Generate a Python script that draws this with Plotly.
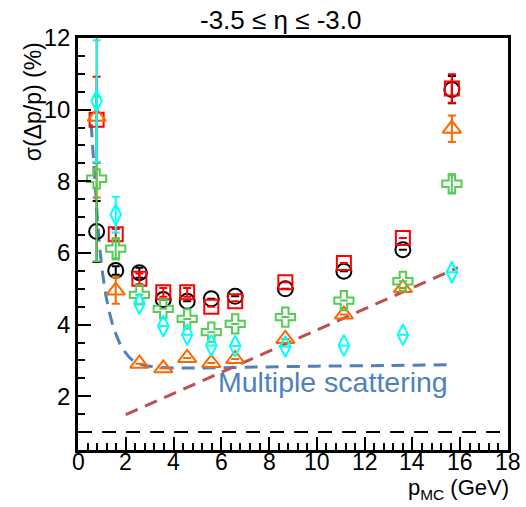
import plotly.graph_objects as go

# Momentum bins (GeV)
p_mc = [0.78, 1.58, 2.57, 3.57, 4.57, 5.58, 6.58, 8.68, 11.13, 13.6, 15.65]

# Relative momentum resolution sigma(dp/p) in % for five configurations
res_black = [6.6, 5.51, 5.45, 4.7, 4.65, 4.72, 4.79, 5.0, 5.49, 6.09, 10.56]
err_black = [0.85, 0.12, 0.14, 0.0, 0.0, 0.0, 0.0, 0.0, 0.0, 0.0, 0.38]

res_red = [9.72, 6.52, 5.28, 4.9, 4.9, 4.5, 4.65, 5.18, 5.72, 6.42, 10.59]
err_red = [1.2, 0.15, 0.15, 0.12, 0.12, 0.0, 0.0, 0.0, 0.0, 0.0, 0.4]

res_orange = [9.8, 4.95, 2.91, 2.78, 3.07, 2.93, 3.04, 3.6, 4.28, 5.02, 9.47]
err_orange = [2.25, 0.37, 0.0, 0.0, 0.0, 0.0, 0.0, 0.0, 0.0, 0.0, 0.37]

res_green = [8.07, 6.12, 4.83, 4.44, 4.16, 3.79, 4.02, 4.21, 4.67, 5.21, 7.93]
err_green = [2.3, 0.3, 0.0, 0.0, 0.0, 0.0, 0.0, 0.0, 0.0, 0.0, 0.25]

res_cyan = [10.24, 7.07, 4.58, 3.96, 3.72, 3.42, 3.40, 3.39, 3.42, 3.72, 5.46]
err_cyan = [1.7, 0.5, 0.0, 0.0, 0.0, 0.0, 0.0, 0.0, 0.0, 0.0, 0.0]

# Multiple-scattering contribution
ms_p = [0.55, 0.65, 0.75, 0.85, 1.0, 1.2, 1.5, 1.9, 2.4, 3.2, 4.8, 7.0, 10.0, 13.0, 15.5]
ms_res = [9.6, 8.6, 7.6, 6.6, 5.6, 4.7, 3.9, 3.3, 2.95, 2.82, 2.79, 2.81, 2.84, 2.86, 2.88]

# Intrinsic (point resolution) term, linear in p
lin_p = [2.0, 15.9]
lin_res = [1.49, 5.59]

# Reference level
ref_p = [0, 18]
ref_res = [1, 1]

# Axis tick labels
x_ticks = [0, 2, 4, 6, 8, 10, 12, 14, 16, 18]

fig = go.Figure()

fig.add_trace(go.Scatter(x=ref_p, y=ref_res, mode="lines",
                         line=dict(color="black", width=2, dash="14px,10px")))
fig.add_trace(go.Scatter(x=ms_p, y=ms_res, mode="lines", line_shape="spline",
                         line=dict(color="#4f81bd", width=3, dash="13px,8px")))
fig.add_trace(go.Scatter(x=lin_p, y=lin_res, mode="lines",
                         line=dict(color="#c0504d", width=3, dash="13px,8px")))

series = [
    (res_black, err_black, "black", "circle-open", 15),
    (res_red, err_red, "#ff0000", "square-open", 14),
    (res_orange, err_orange, "#ff6600", "triangle-up-open", 16),
    (res_green, err_green, "#55cc55", "cross-open", 16),
    (res_cyan, err_cyan, "#00ffff", "diamond-tall-open", 15),
]
for vals, errs, col, sym, sz in series:
    fig.add_trace(go.Scatter(
        x=p_mc, y=vals, mode="markers",
        marker=dict(symbol=sym, size=sz, color=col, line=dict(color=col, width=2)),
        error_y=dict(type="data", array=errs, visible=True, color=col,
                     thickness=2, width=4),
    ))

# x tick labels placed tight under the frame
for t in x_ticks:
    fig.add_annotation(x=t, y=-0.029, xref="x", yref="paper", text=str(t),
                       showarrow=False, font=dict(size=23, color="black"),
                       xanchor="center", yanchor="middle")

fig.add_annotation(x=0.473, y=1.043, xref="paper", yref="paper",
                   text="-3.5 ≤ η ≤ -3.0", showarrow=False,
                   font=dict(size=26, color="black"),
                   xanchor="center", yanchor="middle")
fig.add_annotation(x=-0.104, y=0.994, xref="paper", yref="paper",
                   text="σ(Δp/p) (%)", showarrow=False, textangle=-90,
                   font=dict(size=23, color="black"),
                   xanchor="center", yanchor="top")
fig.add_annotation(x=1.008, y=-0.1335, xref="paper", yref="paper",
                   text="p<sub>MC</sub> (GeV)", showarrow=False,
                   font=dict(size=22, color="black"),
                   xanchor="right", yanchor="bottom")
fig.add_annotation(x=10.67, y=2.39, text="Multiple scattering", showarrow=False,
                   font=dict(size=28.5, color="#4f81bd"),
                   xanchor="center", yanchor="middle")

axis_common = dict(
    showgrid=False, zeroline=False, showline=True, linecolor="black",
    linewidth=2.5, mirror=True, ticks="inside", tickcolor="black",
    ticklen=13, tickwidth=2, tickfont=dict(size=24, color="black"),
)
fig.update_xaxes(range=[0, 18], tick0=0, dtick=2, showticklabels=False,
                 minor=dict(ticks="inside", ticklen=7, tickwidth=1.5,
                            tickcolor="black", tick0=0, dtick=0.4),
                 **axis_common)
fig.update_yaxes(range=[0.5, 12], tick0=0, dtick=2,
                 minor=dict(ticks="inside", ticklen=7, tickwidth=1.5,
                            tickcolor="black", tick0=0, dtick=0.5),
                 **axis_common)

fig.update_layout(
    width=526, height=507,
    margin=dict(l=78, r=18, t=38, b=57),
    plot_bgcolor="white", paper_bgcolor="white",
    showlegend=False,
    font=dict(family="Liberation Sans, Arial, sans-serif", color="black"),
)

fig.write_html("out.html")
